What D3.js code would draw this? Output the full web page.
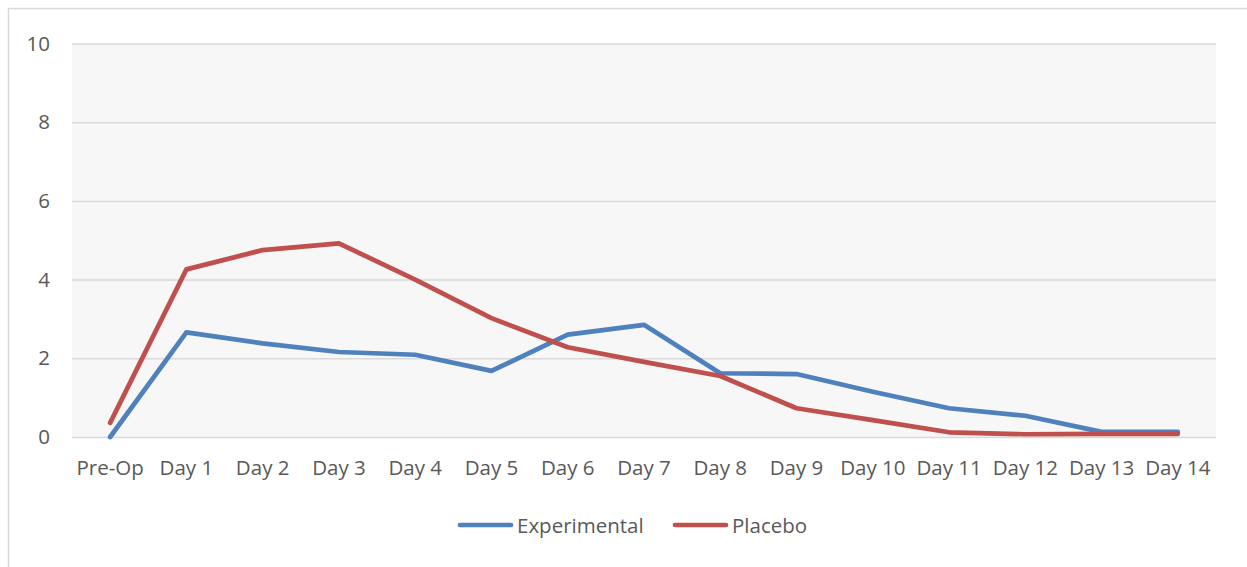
<!DOCTYPE html>
<html>
<head>
<meta charset="utf-8">
<script src="https://cdn.jsdelivr.net/npm/d3@7"></script>
<style>
  html, body { margin: 0; padding: 0; background: #fff; }
  svg { display: block; font-family: "Open Sans", Lato, sans-serif; }
</style>
</head>
<body>
<svg id="chart" width="1247" height="567"></svg>
<script>
// Pain score by day, two treatment groups
const categories = ["Pre-Op", "Day 1", "Day 2", "Day 3", "Day 4", "Day 5", "Day 6", "Day 7",
  "Day 8", "Day 9", "Day 10", "Day 11", "Day 12", "Day 13", "Day 14"];
const experimental = [0, 2.66, 2.38, 2.16, 2.09, 1.68, 2.6, 2.85, 1.62, 1.6, 1.15, 0.73, 0.54, 0.13, 0.13];
const placebo = [0.36, 4.26, 4.75, 4.92, 4.0, 3.02, 2.28, 1.91, 1.55, 0.73, 0.43, 0.12, 0.07, 0.08, 0.08];
const yTicks = [0, 2, 4, 6, 8, 10];
const seriesNames = ["Experimental", "Placebo"];
const seriesColors = ["#4F81BD", "#C0504D"];

const FONT = "'Open Sans', Lato, sans-serif";
const FONT_SIZE = "20.5px";
const TEXT_COLOR = "#595959";

const svg = d3.select("#chart");
const plot = { left: 72, right: 1216, top: 43.5, bottom: 437 };

// outer frame
svg.append("rect")
  .attr("x", 8.5).attr("y", 8.5)
  .attr("width", 1260).attr("height", 580)
  .attr("fill", "#fff").attr("stroke", "#d9d9d9").attr("stroke-width", 1.5);

const x = d3.scaleBand().domain(categories).range([plot.left, plot.right]);
const y = d3.scaleLinear().domain([0, 10]).range([plot.bottom, plot.top]);

// plot background
svg.append("rect")
  .attr("x", plot.left).attr("y", plot.top)
  .attr("width", plot.right - plot.left).attr("height", plot.bottom - plot.top)
  .attr("fill", "#f7f7f7");

// gridlines + y labels
const yAxis = d3.axisLeft(y).tickValues(yTicks).tickSize(-(plot.right - plot.left)).tickPadding(22);
const gy = svg.append("g").attr("transform", `translate(${plot.left},0)`).call(yAxis);
gy.select(".domain").remove();
gy.selectAll(".tick line").attr("stroke", "#d9d9d9").attr("stroke-width", 1.5);
gy.selectAll(".tick text").attr("fill", TEXT_COLOR).style("font-size", FONT_SIZE)
  .style("font-family", FONT);

// x labels
const xAxis = d3.axisBottom(x).tickSize(0).tickPadding(23);
const gx = svg.append("g").attr("transform", `translate(0,${plot.bottom})`).call(xAxis);
gx.select(".domain").remove();
gx.selectAll(".tick text").attr("fill", TEXT_COLOR).style("font-size", FONT_SIZE)
  .style("font-family", FONT);

// series lines
const line = d3.line()
  .x((d, i) => x(categories[i]) + x.bandwidth() / 2)
  .y(d => y(d));

[experimental, placebo].forEach((vals, k) => {
  svg.append("path")
    .datum(vals)
    .attr("d", line)
    .attr("fill", "none")
    .attr("stroke", seriesColors[k])
    .attr("stroke-width", 4.7)
    .attr("stroke-linejoin", "round")
    .attr("stroke-linecap", "round");
});

// legend
const legendItems = [
  { name: seriesNames[0], color: seriesColors[0], x0: 460 },
  { name: seriesNames[1], color: seriesColors[1], x0: 675 }
];
const lg = svg.append("g");
legendItems.forEach(it => {
  lg.append("line")
    .attr("x1", it.x0).attr("x2", it.x0 + 51)
    .attr("y1", 525).attr("y2", 525)
    .attr("stroke", it.color).attr("stroke-width", 4.7).attr("stroke-linecap", "round");
  lg.append("text")
    .attr("x", it.x0 + 57).attr("y", 533)
    .attr("fill", TEXT_COLOR).style("font-size", FONT_SIZE)
    .style("font-family", FONT)
    .text(it.name);
});
</script>
</body>
</html>
